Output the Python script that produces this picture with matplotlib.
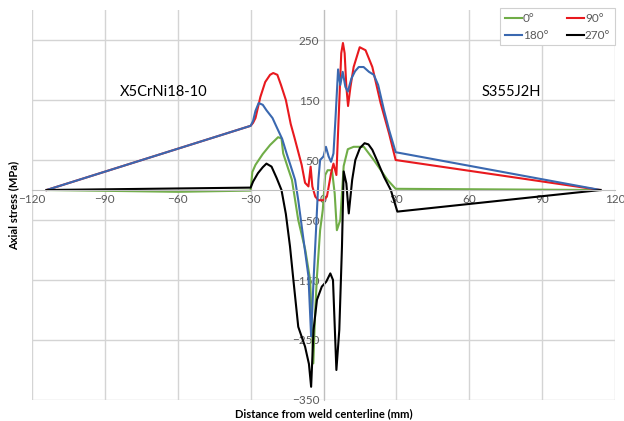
import matplotlib
matplotlib.use("Agg")
from matplotlib import pyplot as plt

plt.rcParams['font.family'] = ['Lato', 'DejaVu Sans']

# distance from weld centerline (mm) and axial stress (MPa) for each angle
x_0 = [-114, -60, -30, -29.3, -28, -25, -22, -18.7, -17.3, -16.6, -14.5, -13, -10.4, -7.5, -5.5,
       -4.2, -3.4, -2.7, -1.4, -0.3, 0.7, 1.7, 3.5, 4.6, 5.5, 6.9, 8.3, 10, 12.4, 16.6, 20.7,
       26.3, 29.7, 114]
y_0 = [0, -3, -1, 30, 42, 60, 75, 88, 86, 61, 35, 17, -50, -100, -150,
       -289, -200, -144, -67, -33, 25, 33, 33, -6, -67, -50, 40, 68, 72, 72, 50,
       17, 2, 0]

x_90 = [-114, -30, -29, -28, -26, -24, -22, -20.7, -19, -17.5, -15.5, -13.5, -12, -10.5, -9,
        -7.6, -6.2, -5.3, -4.6, -3.4, -2.1, 0, 1.4, 3.1, 4.1, 5.3, 6.2, 7.3, 8.0, 8.7,
        9.4, 10.1, 11.1, 12.4, 14.9, 17.3, 20.1, 23.5, 27, 29.7, 114]
y_90 = [0, 107, 112, 120, 155, 180, 192, 195, 192, 175, 150, 110, 88, 65, 42,
        12, 6, 39, 6, -11, -17, -17, -11, 28, 44, 25, 117, 228, 245, 228,
        172, 140, 172, 205, 238, 233, 205, 145, 94, 50, 0]

x_180 = [-114, -30, -29, -28, -26.7, -25, -23.5, -21, -19.3, -17, -15.2, -13.5, -11.7, -10.4,
         -8, -6.2, -5.1, -4.1, -3, -2.1, -1.4, 0, 1, 2.1, 3.1, 4.1, 4.9, 6.0, 6.9, 7.9,
         9.0, 10.0, 11.5, 13, 14.5, 16.5, 18.7, 20.7, 22.5, 24.9, 27, 29.7, 114]
y_180 = [0, 107, 115, 132, 145, 142, 133, 120, 105, 85, 61, 40, 17, -17,
         -90, -144, -244, -150, -60, 17, 50, 56, 72, 56, 47, 61, 117, 201, 175, 197,
         172, 164, 186, 198, 205, 205, 197, 192, 175, 133, 100, 63, 0]

x_270 = [-114, -30, -29, -27, -25, -23.5, -21.4, -19.3, -17.3, -15.5, -13.8, -12.4, -10.4,
         -7.6, -6, -5.1, -4.1, -2.7, -0.7, 1.1, 2.8, 3.9, 5.3, 6.5, 7.6, 8.3, 9.4, 10.4,
         11.8, 13.1, 15, 16.9, 18.5, 20.1, 22.5, 24.9, 27.7, 30.4, 114]
y_270 = [0, 4, 14, 28, 38, 44, 39, 20, 0, -40, -94, -150, -228,
         -261, -290, -328, -233, -183, -161, -153, -139, -150, -300, -233, -94, 31, 11, -39,
         17, 50, 70, 78, 76, 67, 45, 22, 0, -36, 0]

xticks = [-120, -90, -60, -30, 0, 30, 60, 90, 120]
yticks = [-350, -250, -150, -50, 50, 150, 250]

fig = plt.figure(figsize=(6.24, 4.21), dpi=100)
ax = fig.add_axes([0.0513, 0.0499, 0.9343, 0.9263])

# gridlines
for xv in xticks:
    ax.axvline(xv, color='#D4D4D4', lw=1.0, zorder=0)
for yv in yticks:
    ax.axhline(yv, color='#D4D4D4', lw=1.0, zorder=0)

l0, = ax.plot(x_0, y_0, color='#70AD47', lw=1.5, label='0°')
l90, = ax.plot(x_90, y_90, color='#E8191E', lw=1.5, label='90°')
l180, = ax.plot(x_180, y_180, color='#3A68B0', lw=1.5, label='180°')
l270, = ax.plot(x_270, y_270, color='black', lw=1.5, label='270°')

ax.set_xlim(-120, 120)
ax.set_ylim(-350, 300)
ax.set_xticks(xticks)
ax.set_yticks(yticks)

# axes cross at zero
for s in ['top', 'right']:
    ax.spines[s].set_visible(False)
ax.spines['left'].set_position(('data', 0))
ax.spines['bottom'].set_position(('data', 0))
ax.spines['left'].set_color('#BFBFBF')
ax.spines['bottom'].set_color('#BFBFBF')
ax.tick_params(length=0, labelsize=8.5, labelcolor='#595959', pad=3)

ax.text(-65.7, 163, 'X5CrNi18-10', ha='center', va='center', fontsize=10.5)
ax.text(77.5, 163, 'S355J2H', ha='center', va='center', fontsize=10.5)

ax.set_xlabel('Distance from weld centerline (mm)', fontsize=8, fontweight='bold')
ax.set_ylabel('Axial stress (MPa)', fontsize=8, fontweight='bold')
ax.xaxis.set_label_coords(0.5, -0.02)
ax.yaxis.set_label_coords(-0.022, 0.5)

leg = ax.legend(handles=[l0, l180, l90, l270], ncol=2, loc='upper right',
                bbox_to_anchor=(1.0, 1.005), borderaxespad=0, fontsize=8.5,
                handlelength=1.4, handletextpad=0.1, columnspacing=1.6,
                fancybox=False, framealpha=1)
leg.get_frame().set_edgecolor('#D0D0D0')
leg.get_frame().set_linewidth(0.8)
for t in leg.get_texts():
    t.set_color('#595959')

fig.savefig('out.png', dpi=100)
